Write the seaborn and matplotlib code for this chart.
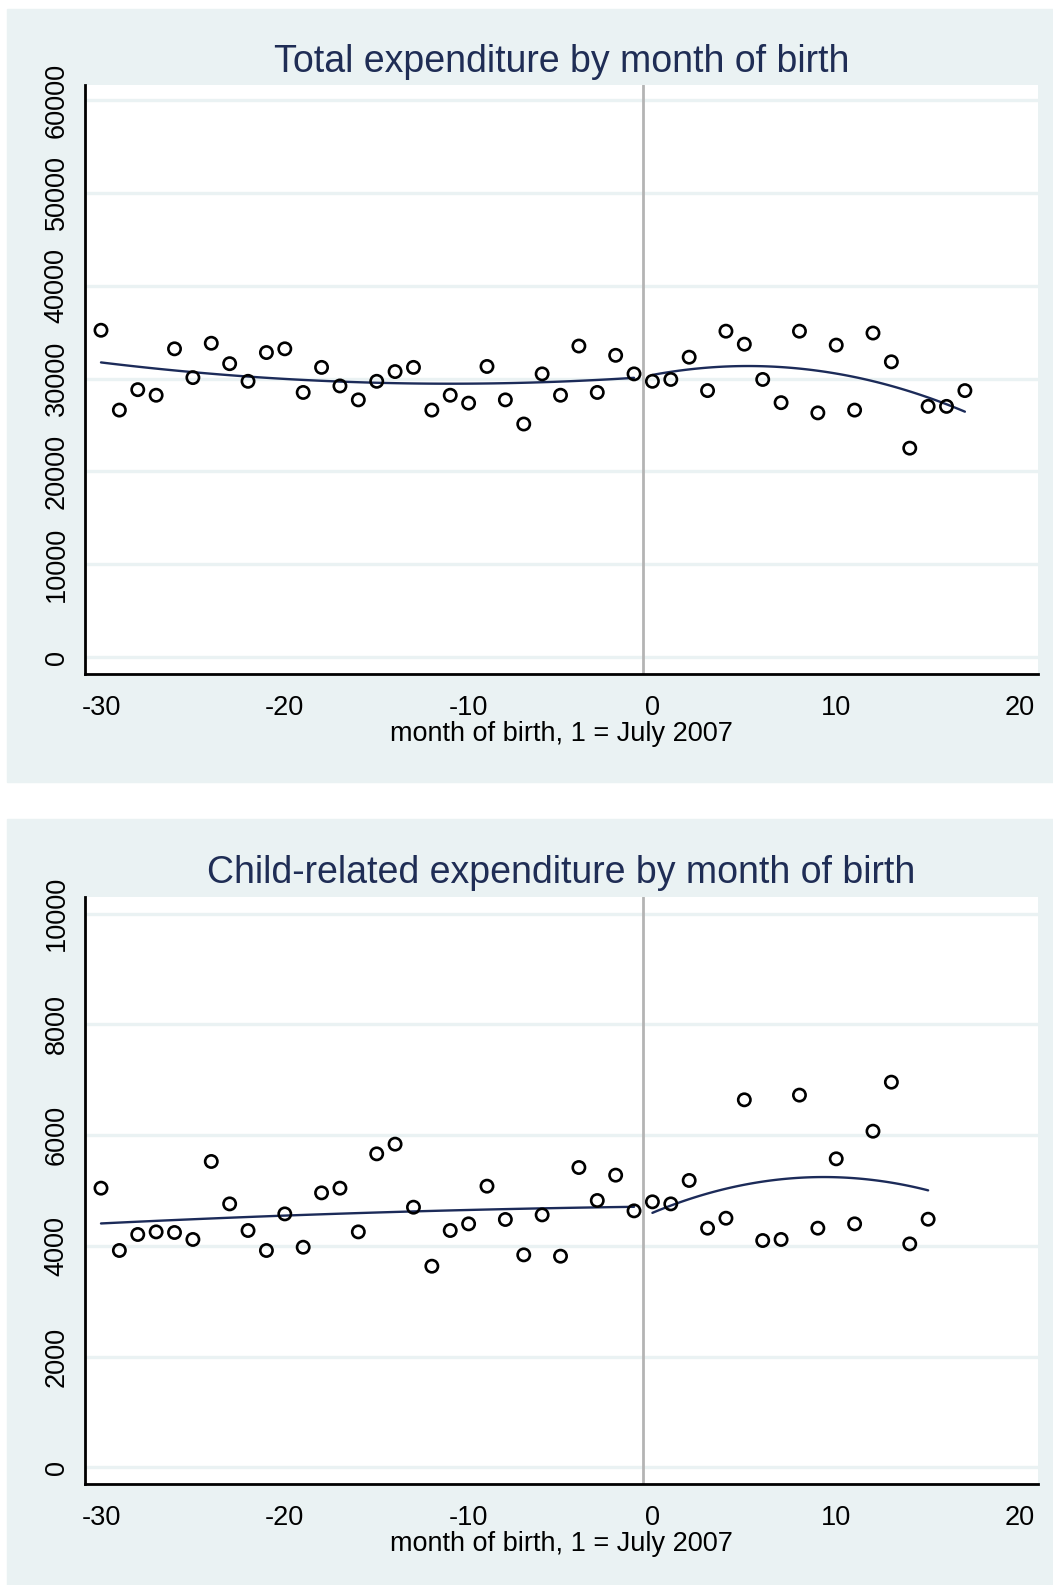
import numpy as np
import pandas as pd
import matplotlib
matplotlib.use("Agg")
import matplotlib.pyplot as plt
from matplotlib.patches import Rectangle
import seaborn as sns

# months of birth (1 = July 2007)
months_top = list(range(-30, 18))
months_bot = list(range(-30, 16))

# total expenditure, monthly means
total_exp = [35200, 26600, 28800, 28200, 33200, 30100, 33800, 31600, 29700, 32800,
             33200, 28500, 31200, 29200, 27700, 29700, 30750, 31200, 26600, 28200,
             27350, 31300, 27700, 25100, 30500, 28200, 33500, 28500, 32500, 30500,
             29700, 29900, 32300, 28700, 35100, 33700, 29900, 27400, 35100, 26300,
             33600, 26600, 34900, 31800, 22500, 27000, 27000, 28700]

# child-related expenditure, monthly means
child_exp = [5043, 3917, 4206, 4253, 4242, 4116, 5525, 4759, 4278, 3917,
             4578, 3976, 4958, 5043, 4253, 5663, 5838, 4699, 3633, 4278,
             4398, 5079, 4477, 3838, 4560, 3814, 5416, 4820, 5278, 4633,
             4796, 4759, 5182, 4320, 4500, 6639, 4097, 4116, 6724, 4320,
             5573, 4398, 6072, 6958, 4036, 4482]

top = pd.DataFrame({"month": months_top, "exp": total_exp})
bot = pd.DataFrame({"month": months_bot, "exp": child_exp})

sns.set_style("white")
plt.rcParams["font.family"] = ["Liberation Sans", "DejaVu Sans"]
plt.rcParams["axes.unicode_minus"] = False
plt.rcParams["text.color"] = "black"
plt.rcParams["axes.labelcolor"] = "black"
plt.rcParams["xtick.labelcolor"] = "black"
plt.rcParams["ytick.labelcolor"] = "black"

bg = "#eaf2f3"
navy = "#1c2b59"

fig = plt.figure(figsize=(10.53, 15.85), dpi=100)
W, H = 1053, 1585
fig.patches.append(Rectangle((7 / W, 1 - 782 / H), 1046 / W, 773 / H,
                             transform=fig.transFigure, color=bg, zorder=-10))
fig.patches.append(Rectangle((7 / W, 0), 1046 / W, 766 / H,
                             transform=fig.transFigure, color=bg, zorder=-10))

ax1 = fig.add_axes([85 / W, 1 - 674 / H, 952.5 / W, 589 / H])
ax2 = fig.add_axes([85 / W, 1 - 1484.3 / H, 952.5 / W, 587.3 / H])

panels = [
    (ax1, top, "Total expenditure by month of birth", (-1830, 61620), range(0, 60001, 10000), 9),
    (ax2, bot, "Child-related expenditure by month of birth", (-307, 10303), range(0, 10001, 2000), 10),
]

for ax, df, title, ylim, yticks, tpad in panels:
    ax.set_facecolor("white")
    ax.set_axisbelow(True)
    ax.yaxis.grid(True, color=bg, lw=2.4)
    ax.xaxis.grid(False)
    ax.axvline(-0.5, color="#b4b4b4", lw=2, zorder=1)

    # scatter of monthly means
    sns.regplot(data=df, x="month", y="exp", fit_reg=False, ax=ax,
                scatter_kws=dict(facecolors="none", edgecolors="black", s=78,
                                 linewidths=1.9, alpha=1, zorder=3))
    # quadratic fits on each side of the cutoff
    left = df[df["month"] < 0]
    right = df[df["month"] >= 0]
    for part in [left, right]:
        sns.regplot(data=part, x="month", y="exp", order=2, ci=None, scatter=False,
                    ax=ax, line_kws=dict(color=navy, lw=1.7, zorder=2))

    ax.set_xlim(-30.87, 20.95)
    ax.set_ylim(*ylim)
    ax.set_xticks(range(-30, 21, 10))
    ax.set_yticks(list(yticks))
    ax.tick_params(axis="both", direction="out", length=10, width=1.6,
                   color="black", labelcolor="black", labelsize=19.5)
    ax.tick_params(axis="x", pad=5)
    ax.tick_params(axis="y", labelrotation=90, pad=1)
    for lab in ax.get_yticklabels():
        lab.set_va("center")
    for s in ["top", "right"]:
        ax.spines[s].set_visible(False)
    for s in ["left", "bottom"]:
        ax.spines[s].set_color("black")
        ax.spines[s].set_linewidth(2)
    ax.set_xlabel("month of birth, 1 = July 2007", fontsize=19.5, labelpad=0,
                  color="black")
    ax.set_ylabel("")
    ax.set_title(title, fontsize=27, color="#1f2d55", pad=tpad)

fig.savefig("out.png", dpi=100)
